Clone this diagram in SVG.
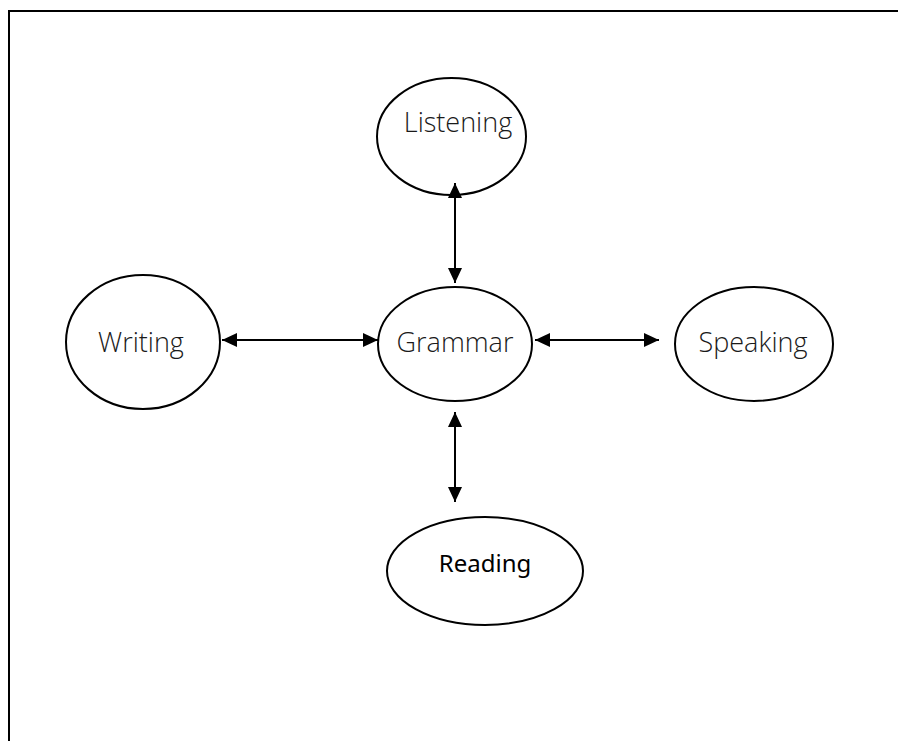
<svg xmlns="http://www.w3.org/2000/svg" width="898" height="741" viewBox="0 0 898 741">
<defs>
<style>
.node{fill:#fff;stroke:#000;stroke-width:2}
.lbl{font-family:"Open Sans","Noto Sans",sans-serif;font-weight:300;font-size:27px;fill:#1a1a1a;text-anchor:middle}
.lbl2{font-family:"Noto Sans","Open Sans",sans-serif;font-size:24px;fill:#000;text-anchor:middle}
.conn{stroke:#000;stroke-width:2;fill:none;marker-start:url(#ah);marker-end:url(#ah)}
</style>
<marker id="ah" viewBox="0 0 15 14" refX="15" refY="7" markerWidth="15" markerHeight="14" markerUnits="userSpaceOnUse" orient="auto-start-reverse">
<path d="M0,0 L15,7 L0,14 z" fill="#000"/>
</marker>
</defs>
<rect x="0" y="0" width="898" height="741" fill="#fff"/>
<rect x="9" y="11" width="1000" height="1000" fill="none" stroke="#000" stroke-width="2"/>
<g id="listening"><ellipse class="node" cx="451.5" cy="136.5" rx="74.5" ry="58.5"/><text class="lbl" x="458" y="132">Listening</text></g>
<g id="writing"><ellipse class="node" cx="143" cy="342" rx="77" ry="67"/><text class="lbl" x="141" y="352">Writing</text></g>
<g id="grammar"><ellipse class="node" cx="455" cy="344" rx="77" ry="57"/><text class="lbl" x="455" y="352">Grammar</text></g>
<g id="speaking"><ellipse class="node" cx="754" cy="344" rx="79" ry="57"/><text class="lbl" x="753" y="352">Speaking</text></g>
<g id="reading"><ellipse class="node" cx="485" cy="571" rx="98" ry="54"/><text class="lbl2" x="485" y="572">Reading</text></g>
<g id="connectors">
<line class="conn" x1="455" y1="183" x2="455" y2="283"/>
<line class="conn" x1="222" y1="340" x2="378" y2="340"/>
<line class="conn" x1="535" y1="340" x2="659" y2="340"/>
<line class="conn" x1="455" y1="412" x2="455" y2="502"/>
</g>
</svg>
